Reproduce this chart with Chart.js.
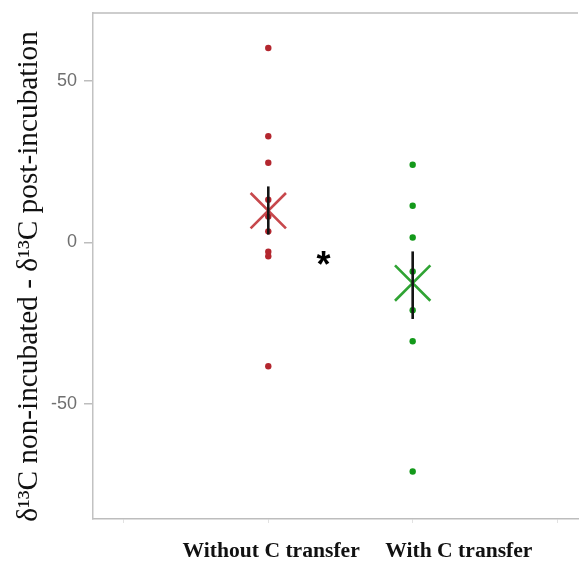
<!DOCTYPE html>
<html>
<head>
<meta charset="utf-8">
<script src="https://cdn.jsdelivr.net/npm/chart.js@4"></script>
<style>
  html, body { margin: 0; padding: 0; background: #fff; }
  canvas { display: block; }
</style>
</head>
<body>
<canvas id="c" width="579" height="561"></canvas>
<script>
// Group categories and where they sit on the x axis
const categories = ['Without C transfer', 'With C transfer'];
const categoryPositions = [1, 2];
const labelPositions = [1.02, 2.32];

// Individual differences for each group
const withoutTransfer = [60.1, 32.8, 24.6, 13.2, 8.0, 3.4, -2.9, -4.3, -38.3];
const withTransfer = [24.0, 11.3, 1.5, -9.0, -21.0, -30.6, -70.9];

// Group means and error bar extents
const groupMeans = [9.8, -12.6];
const errorLow = [2.4, -23.7];
const errorHigh = [17.3, -2.8];

// Axis ticks
const yTicks = [-50, 0, 50];
const xTicks = [0, 1, 2, 3];

// Significance mark between the groups
const significance = { x: 1.383, y: -4.3, text: '*' };

const yTitle = 'δ¹³C non-incubated - δ¹³C post-incubation';

const dotColors = ['#b3262e', '#13991a'];
const meanColors = ['rgba(196, 62, 66, 0.95)', 'rgba(36, 158, 40, 0.95)'];
const groups = [withoutTransfer, withTransfer];

const datasets = [];
groups.forEach((vals, i) => {
  datasets.push({
    label: categories[i],
    data: vals.map(v => ({ x: categoryPositions[i], y: v })),
    pointRadius: 3.2,
    pointBackgroundColor: dotColors[i],
    pointBorderColor: dotColors[i],
    pointBorderWidth: 0,
    showLine: false,
    order: 3
  });
  datasets.push({
    label: categories[i] + ' mean',
    data: [{ x: categoryPositions[i], y: groupMeans[i] }],
    pointStyle: 'crossRot',
    pointRadius: 25,
    pointBorderColor: meanColors[i],
    borderColor: meanColors[i],
    pointBorderWidth: 2.6,
    showLine: false,
    order: 2
  });
  datasets.push({
    label: categories[i] + ' error',
    data: [
      { x: categoryPositions[i], y: errorLow[i] },
      { x: categoryPositions[i], y: errorHigh[i] }
    ],
    showLine: true,
    borderColor: '#141414',
    borderWidth: 2.6,
    pointRadius: 0,
    order: 1
  });
});

const decorations = {
  id: 'decorations',
  afterDraw(chart) {
    const { ctx, chartArea, scales } = chart;
    ctx.save();

    // top frame line
    ctx.strokeStyle = '#bdbdbd';
    ctx.lineWidth = 1.5;
    ctx.beginPath();
    ctx.moveTo(chartArea.left, chartArea.top);
    ctx.lineTo(chartArea.right, chartArea.top);
    ctx.stroke();

    // y axis title
    ctx.save();
    ctx.translate(37, 276.5);
    ctx.rotate(-Math.PI / 2);
    ctx.font = "29.3px 'Liberation Serif'";
    ctx.fillStyle = '#111';
    ctx.textAlign = 'center';
    ctx.textBaseline = 'alphabetic';
    ctx.fillText(yTitle, 0, 0);
    ctx.restore();

    // category labels
    ctx.font = "bold 21.6px 'Liberation Serif'";
    ctx.fillStyle = '#111';
    ctx.textAlign = 'center';
    ctx.textBaseline = 'alphabetic';
    categories.forEach((name, i) => {
      ctx.fillText(name, scales.x.getPixelForValue(labelPositions[i]), 557);
    });

    // significance asterisk
    ctx.font = "bold 36px 'Liberation Sans'";
    ctx.fillStyle = '#000';
    ctx.textAlign = 'center';
    ctx.textBaseline = 'alphabetic';
    const sx = scales.x.getPixelForValue(significance.x);
    const sy = scales.y.getPixelForValue(significance.y);
    ctx.fillText(significance.text, sx, sy + 20.5);

    ctx.restore();
  }
};

new Chart(document.getElementById('c'), {
  type: 'scatter',
  data: { datasets },
  options: {
    responsive: false,
    animation: false,
    devicePixelRatio: 1,
    layout: { autoPadding: false, padding: { left: 0, top: 13, right: 1, bottom: 0 } },
    plugins: { legend: { display: false }, tooltip: { enabled: false } },
    events: [],
    scales: {
      x: {
        type: 'linear',
        min: -0.214,
        max: 3.145,
        afterBuildTicks: s => { s.ticks = xTicks.map(v => ({ value: v })); },
        afterFit: s => {
          s.height = 42;
          s.paddingLeft = 0; s.paddingRight = 0;
        },
        grid: { drawOnChartArea: false, drawTicks: true, tickLength: 4, color: '#e2e2e2' },
        border: { color: '#bdbdbd', width: 1.5 },
        ticks: { display: false }
      },
      y: {
        type: 'linear',
        min: -85.57,
        max: 70.94,
        afterBuildTicks: s => { s.ticks = yTicks.map(v => ({ value: v })); },
        afterFit: s => {
          s.width = 93;
          s.paddingTop = 0; s.paddingBottom = 0;
        },
        grid: { drawOnChartArea: false, drawTicks: true, tickLength: 9, color: '#bdbdbd', lineWidth: 1.5 },
        border: { color: '#c2c2c2', width: 1.5 },
        ticks: {
          font: { family: 'Liberation Sans', size: 18 },
          color: '#6f6f6f',
          padding: 7
        }
      }
    }
  },
  plugins: [decorations]
});
</script>
</body>
</html>
